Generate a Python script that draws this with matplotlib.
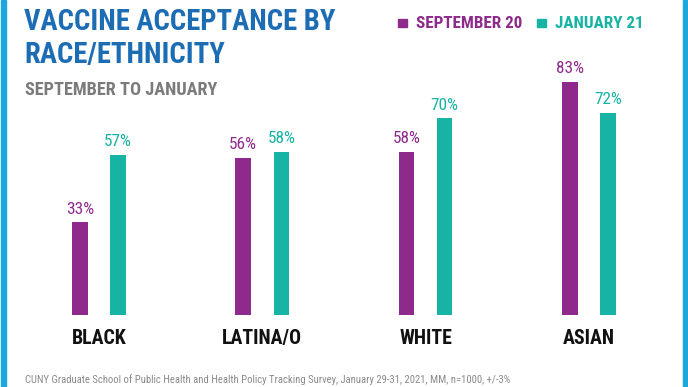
import matplotlib
matplotlib.use("Agg")
import matplotlib.pyplot as plt
from matplotlib import font_manager
from matplotlib.patches import Rectangle
import numpy as np

groups = ["BLACK", "LATINA/O", "WHITE", "ASIAN"]
sep20 = [33, 56, 58, 83]
jan21 = [57, 58, 70, 72]
series_names = ["SEPTEMBER 20", "JANUARY 21"]

title_lines = ["VACCINE ACCEPTANCE BY", "RACE/ETHNICITY"]
subtitle = "SEPTEMBER TO JANUARY"
source = ("CUNY Graduate School of Public Health and Health Policy Tracking Survey, "
          "January 29-31, 2021, MM, n=1000, +/-3%")

PURPLE = "#8e2a8c"
TEAL = "#17b3a5"
BLUE = "#1c6db4"
GREY = "#7b7b7b"
CYAN = "#1aa8df"

# pick the narrowest family that is installed
names = {f.name for f in font_manager.fontManager.ttflist}
narrow = [n for n in ["Liberation Sans Narrow", "Roboto Condensed",
                      "Open Sans Condensed", "Roboto", "DejaVu Sans"] if n in names]
COND = narrow[:1] + ["DejaVu Sans"]

W, H = 688, 387
fig = plt.figure(figsize=(W / 100, H / 100), dpi=100)
fig.patch.set_facecolor("white")
renderer = fig.canvas.get_renderer()


def fit(t, width_px):
    # scale font size so the text spans about width_px pixels
    w = t.get_window_extent(renderer).width
    t.set_fontsize(t.get_fontsize() * width_px / w)
    return t.get_fontsize()


# cyan side borders
fig.patches.append(Rectangle((0.001, 0), 5 / W, 1, transform=fig.transFigure,
                             color=CYAN, zorder=0))
fig.patches.append(Rectangle((683 / W, 0), 5 / W, 1, transform=fig.transFigure,
                             color=CYAN, zorder=0))

# axes: groups at px 99 .. 589, baseline at y=315 px, 2.81 px per %
ax = fig.add_axes([17.3 / W, 72 / H, 653.3 / W, 281 / H])
ax.set_xlim(-0.5, 3.5)
ax.set_ylim(0, 100)
ax.axis("off")

x = np.arange(len(groups))
bw = 0.095
off = 0.117
b1 = ax.bar(x - off, sep20, bw, color=PURPLE)
b2 = ax.bar(x + off, jan21, bw, color=TEAL)

probe = fig.text(0, 0, "33%", fontsize=10, family=COND)
val_size = fit(probe, 28)
probe.remove()

for bars, vals, col in [(b1, sep20, PURPLE), (b2, jan21, TEAL)]:
    for b, v in zip(bars, vals):
        ax.annotate(f"{v}%", (b.get_x() + b.get_width() / 2, v),
                    xytext=(0, 4), textcoords="offset points",
                    ha="center", va="bottom", color=col,
                    fontsize=val_size, family=COND)

probe = fig.text(0, 0, "LATINA/O", fontsize=10, fontweight="bold", family=COND)
cat_size = fit(probe, 80)
probe.remove()
for xi, g in zip(x, groups):
    ax.text(xi, -8.4, g, ha="center", va="center", fontsize=cat_size,
            fontweight="bold", family=COND, color="#111111")

# titles
t1 = fig.text(24 / W, 1 - 22 / H, title_lines[0], ha="left", va="center",
              fontsize=10, fontweight="bold", family=COND, color=BLUE)
tsize = fit(t1, 310)
fig.text(24 / W, 1 - 55 / H, title_lines[1], ha="left", va="center",
         fontsize=tsize, fontweight="bold", family=COND, color=BLUE)
st = fig.text(25 / W, 1 - 90 / H, subtitle, ha="left", va="center", fontsize=10,
              fontweight="bold", family=COND, color=GREY)
fit(st, 192)

# legend
leg = []
for sx, tx, name, col, wd in [(398, 416, series_names[0], PURPLE, 108),
                              (537, 555, series_names[1], TEAL, 88)]:
    fig.patches.append(Rectangle((sx / W, 1 - 27 / H), 9 / W, 8 / H,
                                 transform=fig.transFigure, color=col))
    t = fig.text(tx / W, 1 - 24 / H, name, ha="left", va="center", fontsize=10,
                 fontweight="bold", family=COND, color=col)
    leg.append(fit(t, wd))
for t in fig.texts[-2:]:
    t.set_fontsize(min(leg))

src = fig.text(25 / W, 1 - 380 / H, source, ha="left", va="center", fontsize=10,
               family=COND, color="#8a8a8a")
fit(src, 483)

fig.savefig("out.png", dpi=100, facecolor="white")
